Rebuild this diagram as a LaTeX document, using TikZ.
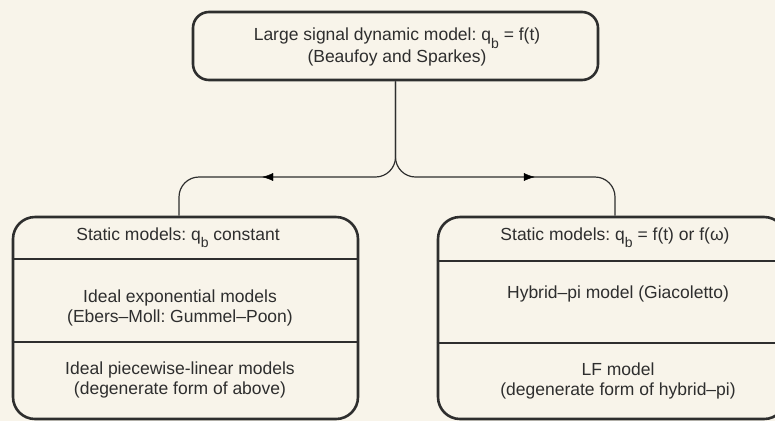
\documentclass[tikz,border=0pt]{standalone}
\usepackage{fontspec}
\setmainfont{Liberation Sans}
\usetikzlibrary{arrows.meta,decorations.markings}
\definecolor{bg}{HTML}{F8F4EA}
\definecolor{ink}{HTML}{2E2E2E}
\newcommand{\subb}{\raisebox{-0.8ex}{\fontsize{14}{14}\selectfont b}}
\frenchspacing
\begin{document}
\begin{tikzpicture}[x=1pt,y=-1pt,
  boxstyle/.style={draw=ink,line width=2.6pt,rounded corners=#1},
  lbl/.style={text=ink,font=\fontsize{17.5}{20}\selectfont\frenchspacing,align=center,inner sep=0pt},
  divthick/.style={draw=ink,line width=2pt},
  divthin/.style={draw=ink,line width=1.2pt},
  conn/.style={draw=ink,line width=1.2pt,rounded corners=20pt},
  arrmark/.style={postaction={decorate},decoration={markings,mark=at position #1 with {\arrow{Latex[length=11pt,width=8pt]}}}}]
\fill[bg] (0,0) rectangle (775,421);
\useasboundingbox (0,0) rectangle (775,421);
% boxes
\node[boxstyle=16pt,minimum width=405pt,minimum height=68pt] (top) at (395.5,46) {};
\node[boxstyle=22pt,minimum width=345pt,minimum height=202pt] (left) at (185.5,318) {};
\node[boxstyle=22pt,minimum width=348pt,minimum height=202pt] (right) at (612,318) {};
% dividers
\draw[divthick] (left.west |- 0,259) -- (left.east |- 0,259);
\draw[divthin] (left.west |- 0,342) -- (left.east |- 0,342);
\draw[divthick] (right.west |- 0,261) -- (right.east |- 0,261);
\draw[divthin] (right.west |- 0,343) -- (right.east |- 0,343);
% texts
\node[lbl] (toptext) at (397,47) {Large signal dynamic model: q\subb{} = f(t)\\(Beaufoy and Sparkes)};
\node[lbl] (lhead) at (178,238) {Static models: q\subb{} constant};
\node[lbl] (lmid) at (180,308) {Ideal exponential models\\(Ebers--Moll: Gummel--Poon)};
\node[lbl] (lbot) at (180,380) {Ideal piecewise-linear models\\(degenerate form of above)};
\node[lbl] (rhead) at (615,238) {Static models: q\subb{} = f(t) or f(ω)};
\node[lbl] (rmid) at (618,294) {Hybrid--pi model (Giacoletto)};
\node[lbl] (rbot) at (618,381) {LF model\\(degenerate form of hybrid--pi)};
% connectors
\coordinate (lj) at (179,177);
\coordinate (rj) at (615,177);
\path[conn] (top.south) -- (top.south |- lj) -- (lj) -- (lj |- left.north);
\path[conn] (top.south) -- (top.south |- rj) -- (rj) -- (rj |- right.north);
\coordinate (la) at (300,177);
\coordinate (lb) at (240,177);
\coordinate (ra) at (500,177);
\coordinate (rb) at (560,177);
\path[arrmark=0.63] (la) -- (lb);
\path[arrmark=0.58] (ra) -- (rb);
\end{tikzpicture}
\end{document}
